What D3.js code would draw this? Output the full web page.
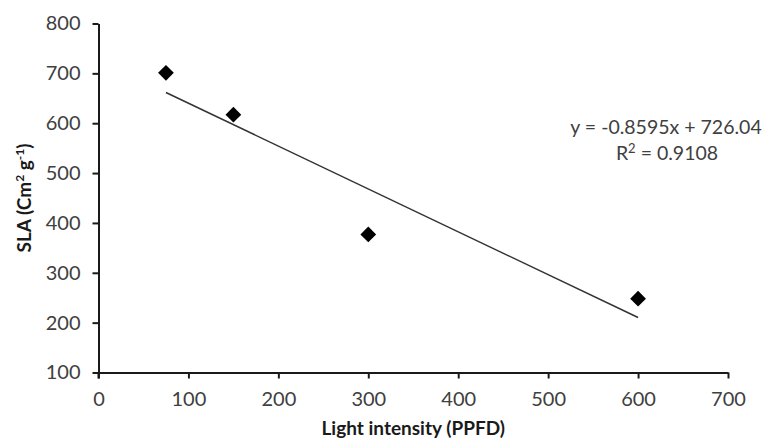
<!DOCTYPE html>
<html lang="en">
<head>
  <meta charset="UTF-8">
  <title>SLA vs light intensity</title>
  <script src="https://cdn.jsdelivr.net/npm/d3@7/dist/d3.min.js"></script>
  <style>
    body { margin: 0; background: #fff; }
    svg text { font-family: Lato, "Open Sans", sans-serif; fill: #404040; }
    .axis path, .axis line { stroke: #1a1a1a; stroke-width: 2; }
    .axis text { font-size: 20px; }
    .title { font-weight: bold; font-size: 19px; fill: #1a1a1a; }
  </style>
</head>
<body>
<div class="chart"></div>
<script>
  // data
  const lightPPFD = [75, 150, 300, 600];
  const slaValues = [701, 617, 377, 248];
  const xTicks = [0, 100, 200, 300, 400, 500, 600, 700];
  const yTicks = [100, 200, 300, 400, 500, 600, 700, 800];
  const trendSlope = -0.8595,
    trendIntercept = 726.04;
  const equationText = "y = -0.8595x + 726.04";
  const rSquaredText = "0.9108";

  const width = 762,
    height = 442;
  const plotLeft = 98.5, plotRight = 728, plotTop = 23.5, plotBottom = 372.5;

  const svg = d3.select(".chart")
    .append("svg")
    .attr("width", width)
    .attr("height", height);

  const x = d3.scaleLinear().domain([0, 700]).range([plotLeft, plotRight]);
  const y = d3.scaleLinear().domain([100, 800]).range([plotBottom, plotTop]);

  // axes
  svg.append("g")
    .attr("class", "axis")
    .attr("transform", `translate(0, ${plotBottom})`)
    .call(d3.axisBottom(x).tickValues(xTicks).tickSize(6).tickPadding(13).tickSizeOuter(0));

  svg.append("g")
    .attr("class", "axis")
    .attr("transform", `translate(${plotLeft}, 0)`)
    .call(d3.axisLeft(y).tickValues(yTicks).tickSize(6).tickPadding(12).tickSizeOuter(0));

  // y axis pokes below the x axis like the 0 tick
  svg.append("line")
    .attr("x1", plotLeft).attr("x2", plotLeft)
    .attr("y1", plotBottom).attr("y2", plotBottom + 6)
    .attr("stroke", "#1a1a1a").attr("stroke-width", 2);

  // trendline
  const trendX = d3.extent(lightPPFD);
  svg.append("line")
    .attr("x1", x(trendX[0]))
    .attr("y1", y(trendSlope * trendX[0] + trendIntercept))
    .attr("x2", x(trendX[1]))
    .attr("y2", y(trendSlope * trendX[1] + trendIntercept))
    .attr("stroke", "#333")
    .attr("stroke-width", 1.5);

  // diamond markers
  const diamond = d3.symbol().type(d3.symbolSquare).size(124);
  svg.append("g")
    .selectAll("path")
    .data(lightPPFD)
    .enter()
    .append("path")
    .attr("d", diamond)
    .attr("transform", (d, i) => `translate(${x(d)}, ${y(slaValues[i])}) rotate(45)`)
    .attr("fill", "#000");

  // equation label
  svg.append("text")
    .attr("x", 666)
    .attr("y", 134)
    .attr("text-anchor", "middle")
    .style("font-size", "19.5px")
    .text(equationText);

  const r2 = svg.append("text")
    .attr("x", 667)
    .attr("y", 160)
    .attr("text-anchor", "middle")
    .style("font-size", "19.5px");
  r2.append("tspan").text("R");
  r2.append("tspan").attr("dy", -7).style("font-size", "13px").text("2");
  r2.append("tspan").attr("dy", 7).text(" = " + rSquaredText);

  // axis titles
  svg.append("text")
    .attr("class", "title")
    .attr("x", (plotLeft + plotRight) / 2)
    .attr("y", 435)
    .attr("text-anchor", "middle")
    .text("Light intensity (PPFD)");

  const yTitle = svg.append("text")
    .attr("class", "title")
    .attr("text-anchor", "middle")
    .attr("transform", `translate(31, ${(plotTop + plotBottom) / 2}) rotate(-90)`);
  yTitle.append("tspan").text("SLA (Cm");
  yTitle.append("tspan").attr("dy", -7).style("font-size", "12px").text("2");
  yTitle.append("tspan").attr("dy", 7).text(" g");
  yTitle.append("tspan").attr("dy", -7).style("font-size", "12px").text("-1");
  yTitle.append("tspan").attr("dy", 7).text(")");
</script>
</body>
</html>
